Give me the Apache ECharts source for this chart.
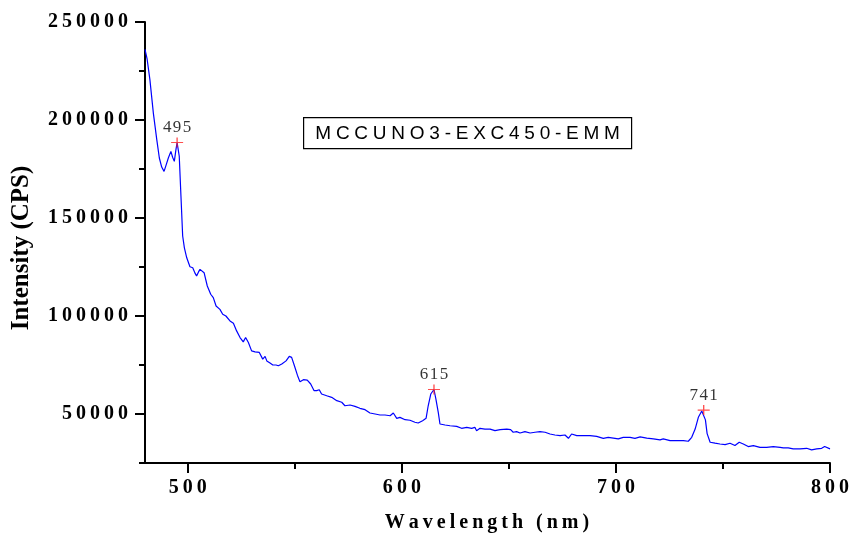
<!DOCTYPE html>
<html>
<head>
<meta charset="utf-8">
<script src="https://cdn.jsdelivr.net/npm/echarts@6/dist/echarts.min.js"></script>
<style>html,body{margin:0;padding:0;background:#fff}#c{width:849px;height:536px}</style>
</head>
<body>
<div id="c"></div>
<script>
// ---- data ----
const wavelength = [480.0,481.0,482.3,483.9,485.5,486.7,487.8,488.9,490.0,490.9,492.1,492.9,493.7,494.4,495.0,496.0,496.8,497.6,498.4,499.5,
501.0,502.3,503.3,504.1,505.0,505.7,506.5,507.6,509.1,510.7,511.9,513.2,515.0,516.3,517.8,519.7,521.3,522.8,524.4,525.9,
527.0,528.3,529.8,531.4,533.4,535.0,536.1,536.9,538.4,539.7,541.2,542.3,543.9,545.9,547.4,548.5,549.8,551.2,552.4,554.0,
555.8,557.4,559.0,560.2,561.4,562.5,564.9,567.2,569.6,571.9,573.4,575.8,578.1,580.4,582.8,585.1,587.5,589.8,592.1,594.5,
596.0,597.6,599.1,601.5,603.8,606.1,607.6,609.7,611.3,612.3,613.5,615.0,615.9,617.0,617.8,620.2,622.5,625.6,627.9,630.3,
632.6,634.1,634.9,636.5,638.8,641.2,643.5,645.9,649.0,650.8,652.0,653.6,655.2,657.5,659.9,662.2,664.5,666.9,669.2,671.5,
673.9,676.2,677.8,679.3,681.7,684.8,687.9,691.0,694.1,696.4,698.8,701.1,703.4,706.6,708.9,711.3,714.4,717.5,720.6,722.1,
725.3,728.4,731.5,733.8,735.4,737.0,738.5,740.1,741.0,741.8,742.6,744.0,746.3,748.6,751.0,753.3,755.6,757.6,759.5,761.8,
764.2,767.3,770.4,773.5,776.7,778.2,780.5,782.8,786.0,789.1,791.4,793.8,796.1,797.5,800.0];
const intensity = [236000,231000,220500,203500,190000,180600,176000,173800,177500,180600,184000,181000,178900,184500,188500,181500,161100,140800,134800,129700,
125100,124600,122000,120400,122500,123800,123400,122100,115300,111100,109400,105100,103400,100900,100000,97500,96300,92400,89000,86800,
89000,86500,82200,81700,81400,78000,79400,77100,76000,75000,75000,74600,75500,77100,79400,78900,74600,69800,66400,67500,
67300,65300,61900,61900,62400,60200,59300,58500,56800,56000,54200,54600,53900,52900,52200,50500,50000,49500,49500,49100,
50500,47800,48300,47100,46800,45800,45400,46600,47800,54200,60200,62500,57600,50800,44900,44400,44000,43700,42700,43200,
42700,43200,41500,42700,42300,42300,41500,42000,42300,42000,40700,41000,40300,41000,40300,40700,41000,40700,39800,39300,
39000,39300,37600,39800,39000,39000,39000,38600,37600,38100,37700,37300,38100,38100,37600,38300,37700,37300,36800,37300,
36400,36400,36400,36100,38100,42300,48300,51500,52000,47000,40000,35600,35100,34700,34400,35100,33900,35600,34700,33400,
33900,33000,33000,33400,33000,32700,32700,32200,32200,32500,31700,32200,32500,33400,32200];
const peakWavelength = [495, 615, 741];
const peakIntensity = [188500, 62500, 52000];
const peakLabels = ['495', '615', '741'];
const xTicks = [500, 600, 700, 800];
const xMinorTicks = [550, 650, 750];
const yTicks = [50000, 100000, 150000, 200000, 250000];
const yMinorTicks = [25000, 75000, 125000, 175000, 225000];
const xRange = [480, 800];
const yRange = [25000, 250000];
const xTitle = 'Wavelength (nm)';
const yTitle = 'Intensity (CPS)';
const boxText = 'MCCUNO3-EXC450-EMM';

// ---- chart ----
const SERIF = '"Times New Roman", "Liberation Serif", serif';
const SANS = 'Arial, "Liberation Sans", sans-serif';
const sp = (s, ch) => String(s).split('').join(ch);

const chart = echarts.init(document.getElementById('c'), null, {renderer: 'canvas'});
const axisLineStyle = {color: '#000', width: 2};
chart.setOption({
  animation: false,
  backgroundColor: '#fff',
  grid: {left: 145, right: 19, top: 22, bottom: 73, containLabel: false, outerBoundsMode: 'none'},
  xAxis: [{
    type: 'value', min: xRange[0], max: xRange[1], position: 'bottom',
    axisLine: {show: true, lineStyle: axisLineStyle},
    axisTick: {show: true, inside: false, length: 10, lineStyle: {color: '#000', width: 2}, customValues: xTicks},
    axisLabel: {show: true, customValues: xTicks, margin: 15, color: '#000', fontFamily: SERIF, fontWeight: 'bold', fontSize: 20,
      formatter: v => sp(v, '\u2009')},
    splitLine: {show: false}
  }, {
    type: 'value', min: xRange[0], max: xRange[1], position: 'bottom',
    axisLine: {show: false},
    axisTick: {show: true, inside: false, length: 6, lineStyle: {color: '#000', width: 2}, customValues: xMinorTicks},
    axisLabel: {show: false},
    splitLine: {show: false}
  }],
  yAxis: [{
    type: 'value', min: yRange[0], max: yRange[1], position: 'left',
    axisLine: {show: true, lineStyle: axisLineStyle},
    axisTick: {show: true, inside: false, length: 10, lineStyle: {color: '#000', width: 2}, customValues: yTicks},
    axisLabel: {show: true, customValues: yTicks, margin: 17, color: '#000', fontFamily: SERIF, fontWeight: 'bold', fontSize: 20,
      formatter: v => sp(v, '\u2009')},
    splitLine: {show: false}
  }, {
    type: 'value', min: yRange[0], max: yRange[1], position: 'left',
    axisLine: {show: false},
    axisTick: {show: true, inside: false, length: 6, lineStyle: {color: '#000', width: 2}, customValues: yMinorTicks},
    axisLabel: {show: false},
    splitLine: {show: false}
  }],
  series: [{
    type: 'line',
    data: wavelength.map((w, i) => [w, intensity[i]]),
    showSymbol: false, symbol: 'none', smooth: false,
    lineStyle: {color: '#0000ff', width: 1.2},
    z: 2
  }, {
    type: 'scatter',
    data: peakWavelength.map((w, i) => ({value: [w, peakIntensity[i]], name: peakLabels[i]})),
    symbol: 'path://M0,5L12,5M6,0L6,10',
    symbolSize: [12, 10],
    itemStyle: {color: 'rgba(0,0,0,0)', borderColor: '#ff2020', borderWidth: 1.2},
    label: {show: true, position: 'top', distance: 1, formatter: p => sp(p.name, '\u200A'),
      color: '#000', fontFamily: SERIF, fontSize: 17},
    z: 3
  }],
  graphic: [{
    type: 'text', x: 487, y: 523,
    style: {text: sp(xTitle, '\u2009'), fill: '#000', font: 'bold 20px ' + SERIF, align: 'center', verticalAlign: 'middle'}
  }, {
    type: 'text', x: 22, y: 248, rotation: Math.PI / 2,
    style: {text: yTitle, fill: '#000', font: 'bold 25px ' + SERIF, align: 'center', verticalAlign: 'middle'}
  }, {
    type: 'group', left: 303, top: 117,
    children: [{
      type: 'rect', shape: {x: 0, y: 0, width: 328, height: 31},
      style: {fill: '#fff', stroke: '#000', lineWidth: 1.2}
    }, {
      type: 'text', x: 164, y: 16,
      style: {text: sp(boxText, '\u2005'), fill: '#000', font: '19px ' + SANS, align: 'center', verticalAlign: 'middle'}
    }]
  }]
});
</script>
</body>
</html>
